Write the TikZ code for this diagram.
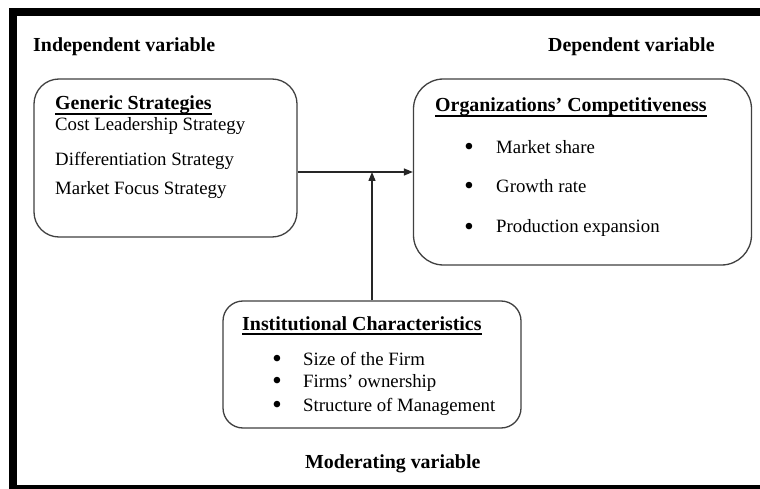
\documentclass[tikz,border=0pt]{standalone}
\usepackage{fontspec}
\setmainfont{Liberation Serif}
\usetikzlibrary{arrows.meta}
\begin{document}
\begin{tikzpicture}[x=1pt,y=-1pt,
  hd/.style={anchor=base west,inner sep=0pt,font=\fontsize{19.9}{22}\selectfont\bfseries},
  tx/.style={anchor=base west,inner sep=0pt,font=\fontsize{18.8}{21}\selectfont},
  bl/.style={anchor=base,inner sep=0pt,font=\fontsize{24}{21}\selectfont\bfseries},
  boxr/.style={draw=black!75,line width=1.3pt,inner sep=0pt},
  ul/.style={line width=2pt},
  arr/.style={draw=black!85,line width=1.3pt,-{Triangle[length=9pt,width=7pt]}}]
\useasboundingbox (0,0) rectangle (760,489);
\fill[white] (0,0) rectangle (760,489);
% frame
\draw[line width=8pt] (13,493) -- (13,12) -- (780,12);
\draw[line width=8pt] (9,489) -- (780,489);
% boxes
\node[boxr,rounded corners=25pt,minimum width=263pt,minimum height=158pt] (gen) at (165.5,158) {};
\node[boxr,rounded corners=30pt,minimum width=338pt,minimum height=186pt] (oc) at (582.5,172) {};
\node[boxr,rounded corners=20pt,minimum width=298pt,minimum height=127pt] (inst) at (372,364.5) {};
% labels
\node[hd] (iv) at (33,52) {Independent variable};
\node[hd] (dv) at (548,52) {Dependent variable};
\node[hd] (mv) at (305,468) {Moderating variable};
% generic strategies
\node[hd] (gt) at (55,110) {Generic Strategies};
\draw[ul] ([yshift=-4pt]gt.base west) -- ([yshift=-4pt]gt.base east);
\node[tx] (g1) at (55,131) {Cost Leadership Strategy};
\node[tx] (g2) at (55,166) {Differentiation Strategy};
\node[tx] (g3) at (55,195) {Market Focus Strategy};
% competitiveness
\node[hd] (ot) at (435,112) {Organizations’ Competitiveness};
\draw[ul] ([yshift=-4pt]ot.base west) -- ([yshift=-4pt]ot.base east);
\node[bl] (ob1) at (469,155) {•};
\node[tx] (o1) at (496,154) {Market share};
\node[bl] (ob2) at (469,194) {•};
\node[tx] (o2) at (496,193) {Growth rate};
\node[bl] (ob3) at (469,234) {•};
\node[tx] (o3) at (496,233) {Production expansion};
% institutional
\node[hd] (it) at (242,330) {Institutional Characteristics};
\draw[ul] ([yshift=-4pt]it.base west) -- ([yshift=-4pt]it.base east);
\node[bl] (ib1) at (277,366) {•};
\node[tx] (i1) at (303,365) {Size of the Firm};
\node[bl] (ib2) at (277,388) {•};
\node[tx] (i2) at (303,387) {Firms’ ownership};
\node[bl] (ib3) at (277,412) {•};
\node[tx] (i3) at (303,411) {Structure of Management};
% arrows
\draw[arr] (gen.east |- oc.west) -- (oc.west);
\draw[arr] (inst.north) -- (inst.north |- oc.west);
\end{tikzpicture}
\end{document}
